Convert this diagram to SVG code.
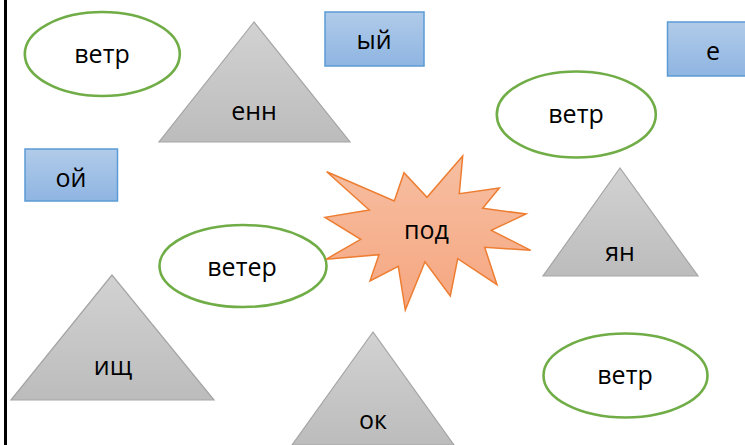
<svg xmlns="http://www.w3.org/2000/svg" width="745" height="445" viewBox="0 0 745 445">
<style>
text{font-family:"Open Sans","Noto Sans","Liberation Sans",sans-serif;font-size:25px;fill:#000;text-anchor:middle}
.e{fill:#fff;stroke:#70ad47;stroke-width:2.6}
.r{fill:url(#b);stroke:#5b9bd5;stroke-width:1.5}
.t{fill:url(#g);stroke:#a5a5a5;stroke-width:1.2}
.s{fill:url(#o);stroke:#ed7d31;stroke-width:1.5}
</style>
<defs>
<linearGradient id="b" x1="0" y1="0" x2="0" y2="1"><stop offset="0" stop-color="#b1cbe9"/><stop offset="1" stop-color="#8fb5e2"/></linearGradient>
<linearGradient id="g" x1="0" y1="0" x2="0" y2="1"><stop offset="0" stop-color="#d2d2d2"/><stop offset="1" stop-color="#bcbcbc"/></linearGradient>
<linearGradient id="o" x1="0" y1="0" x2="0" y2="1"><stop offset="0" stop-color="#f6bfa2"/><stop offset="1" stop-color="#f6a680"/></linearGradient>
</defs>
<rect width="745" height="445" fill="#fff"/>
<rect id="left-bar" x="4" y="0" width="3" height="445" fill="#000"/>
<g id="connectors"></g>
<g id="n1"><ellipse class="e" cx="102.3" cy="54" rx="77.5" ry="42"/><text x="102" y="63">ветр</text></g>
<g id="n2"><path class="t" d="M254 22L159 142H350Z"/><text x="254" y="120">енн</text></g>
<g id="n3"><rect class="r" x="325" y="12" width="99" height="54"/><text x="374" y="49">ый</text></g>
<g id="n4"><rect class="r" x="667.5" y="22" width="80" height="54"/><text x="713" y="60">е</text></g>
<g id="n5"><ellipse class="e" cx="576.3" cy="114.5" rx="79.5" ry="43"/><text x="576" y="123">ветр</text></g>
<g id="n6"><rect class="r" x="25" y="149" width="92.5" height="52"/><text x="71" y="187">ой</text></g>
<g id="n7"><ellipse class="e" cx="243" cy="266" rx="83.5" ry="41"/><text x="242" y="276">ветер</text></g>
<g id="n8"><path class="s" d="M326.7 171.7L394.3 201L404 172.7L427 197.3L462.7 156L459.3 193.7L499.3 188L482.7 208.3L526 214L491.3 230.3L530.7 250.3L484.7 247.3L497 284.7L457.7 258.7L450.3 296L425 261.7L405.3 310L398.3 266.3L370 281L379 254.7L326 259.3L360.7 239.3L325 217.3L369.3 210Z"/><text x="426.5" y="239">под</text></g>
<g id="n9"><path class="t" d="M620 168L543 276H698Z"/><text x="620" y="261">ян</text></g>
<g id="n10"><path class="t" d="M112 275L11 400H214Z"/><text x="113" y="375">ищ</text></g>
<g id="n11"><path class="t" d="M373 332L292 445H454Z"/><text x="373" y="429">ок</text></g>
<g id="n12"><ellipse class="e" cx="625.5" cy="375.5" rx="82" ry="42"/><text x="625" y="384">ветр</text></g>
</svg>
